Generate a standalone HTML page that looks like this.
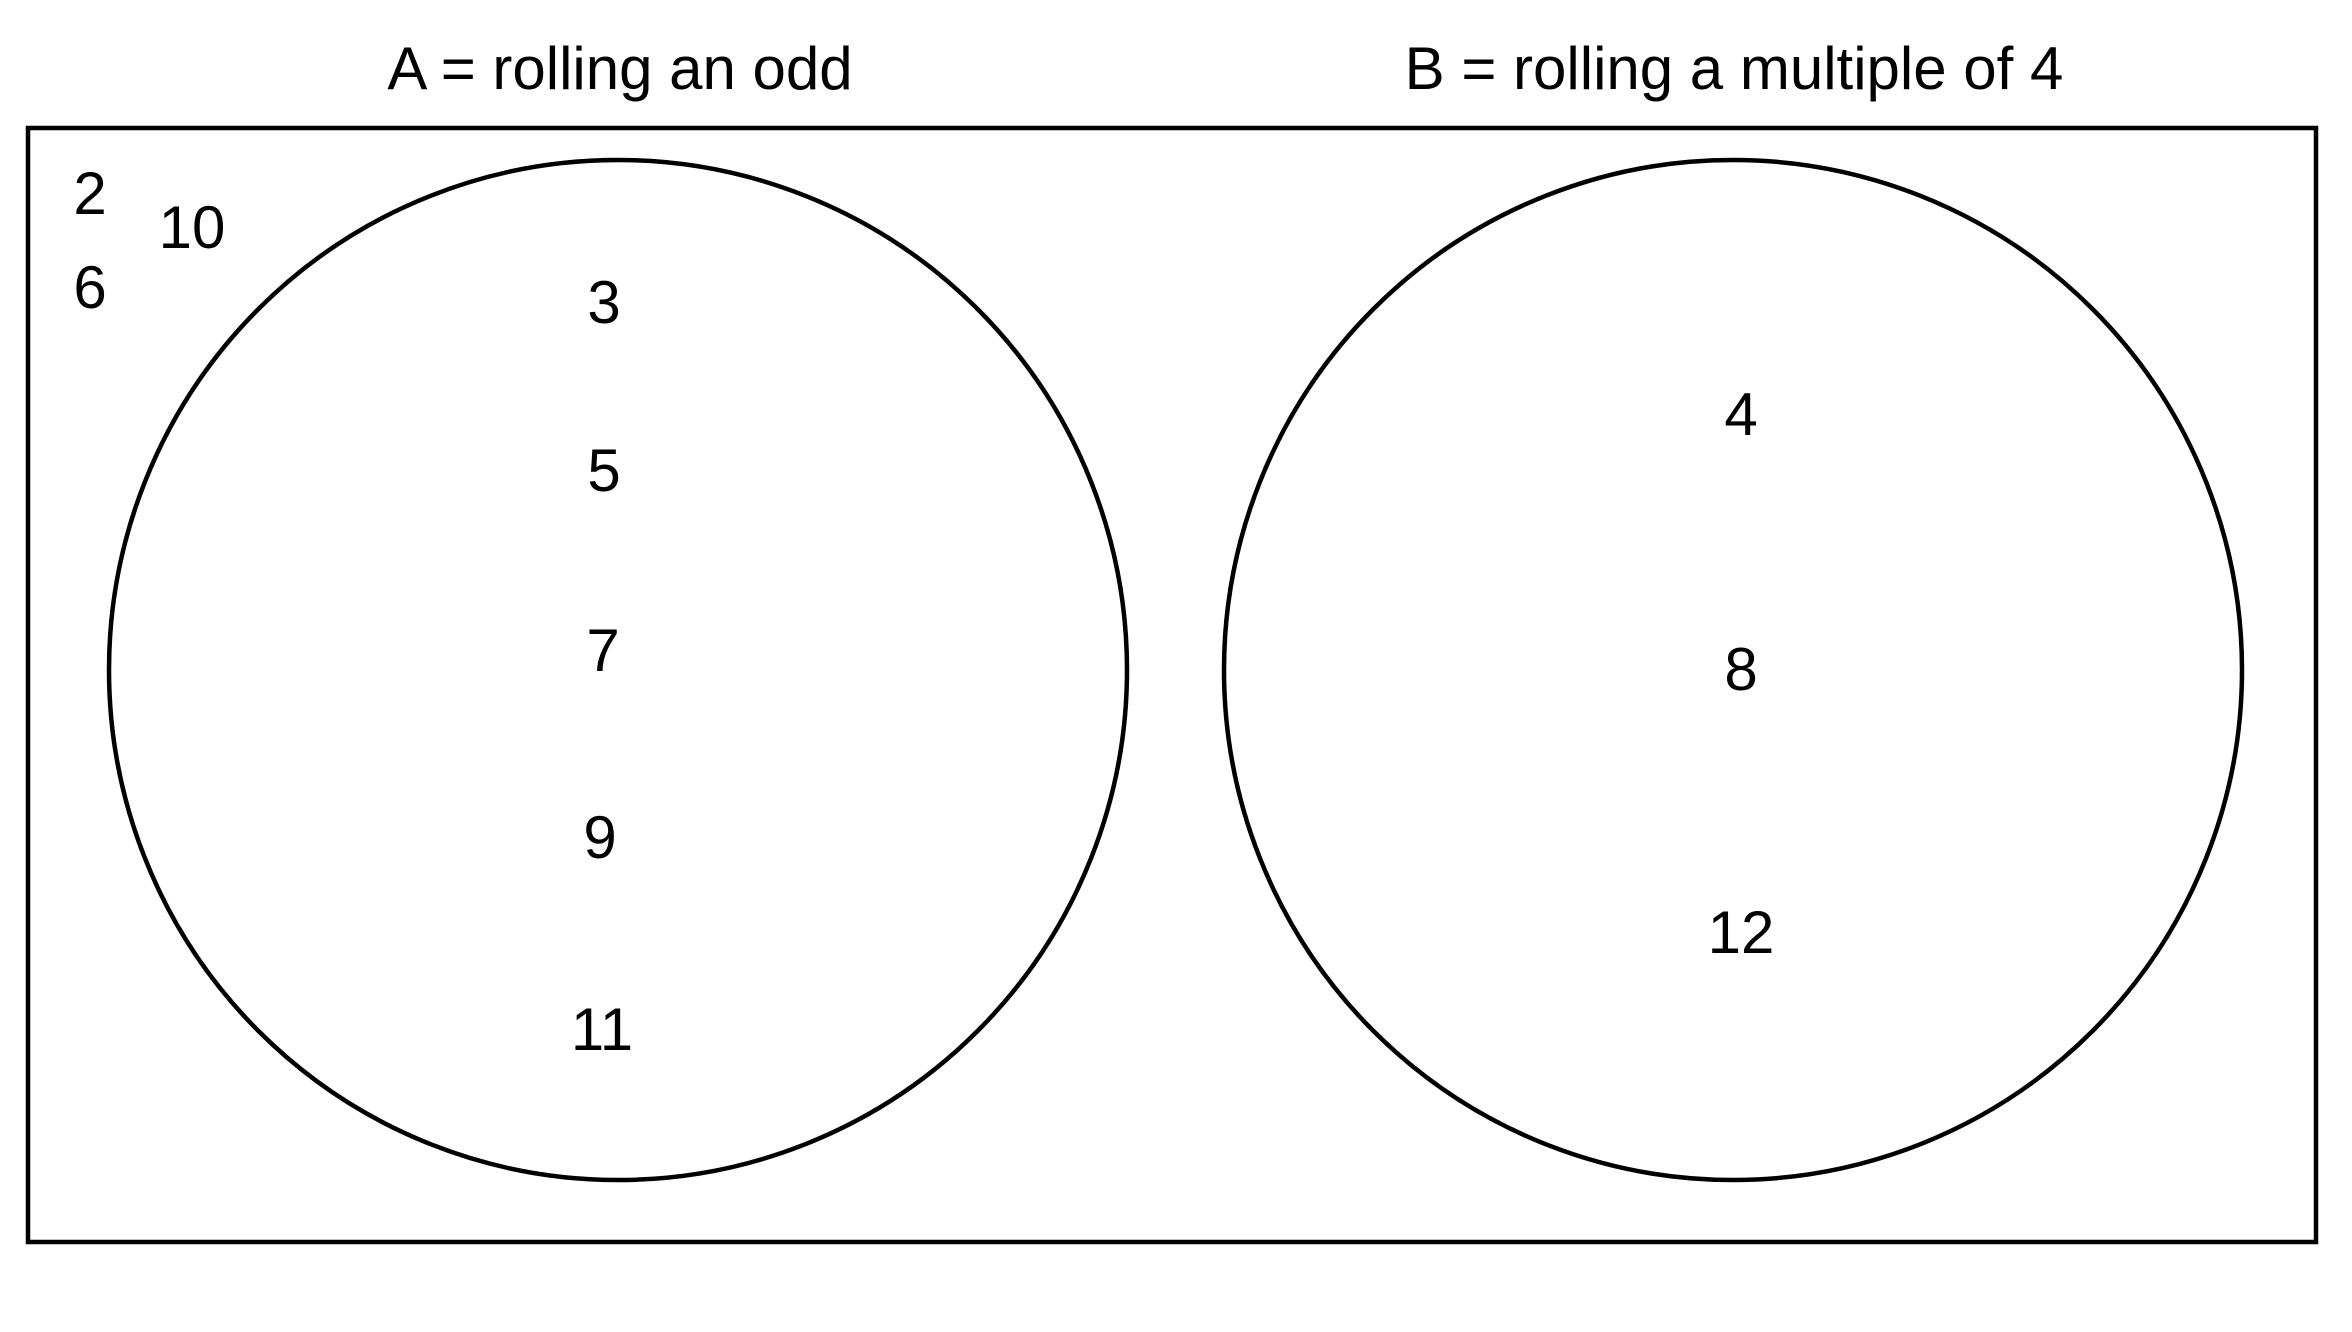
<!DOCTYPE html>
<html><head><meta charset="utf-8"><style>
html,body{margin:0;padding:0;background:#fff;}
svg{display:block;font-family:"Liberation Sans",Arial,sans-serif;}
</style></head><body>
<svg id="venn" width="2352" height="1332" viewBox="0 0 2352 1332">
<rect x="28" y="128" width="2288" height="1114" fill="none" stroke="#000" stroke-width="4.5"/>
<text x="620" y="89" font-size="60" text-anchor="middle">A = rolling an odd</text>
<text x="1734" y="89" font-size="60" text-anchor="middle">B = rolling a multiple of 4</text>
<ellipse cx="618" cy="670" rx="509" ry="510" fill="none" stroke="#000" stroke-width="4.5"/>
<ellipse cx="1733" cy="670" rx="509" ry="510" fill="none" stroke="#000" stroke-width="4.5"/>
<g id="labels"></g>
</svg>
<script>
const outsideValues = ["2", "6", "10"];
const setAValues = ["3", "5", "7", "9", "11"];
const setBValues = ["4", "8", "12"];
const g = document.getElementById('labels');
const NS = 'http://www.w3.org/2000/svg';
function addLabel(txt, x, y, name) {
  const t = document.createElementNS(NS, 'text');
  t.setAttribute('x', x);
  t.setAttribute('y', y);
  t.setAttribute('font-size', '60');
  t.setAttribute('text-anchor', 'middle');
  
  
  t.textContent = txt;
  g.appendChild(t);
}
const outPos = [[90, 214], [90, 308], [192, 248]];
outsideValues.forEach((v, i) => addLabel(v, outPos[i % outPos.length][0], outPos[i % outPos.length][1], 'outside-value-' + v));
const aY = [323, 491, 671, 858, 1050];
const aX = [604, 604, 603, 600, 602];
setAValues.forEach((v, i) => addLabel(v, aX[i], aY[i], 'set-a-value-' + v));
const bY = [435, 690, 953];
setBValues.forEach((v, i) => addLabel(v, 1741, bY[i], 'set-b-value-' + v));
</script>
</body></html>
